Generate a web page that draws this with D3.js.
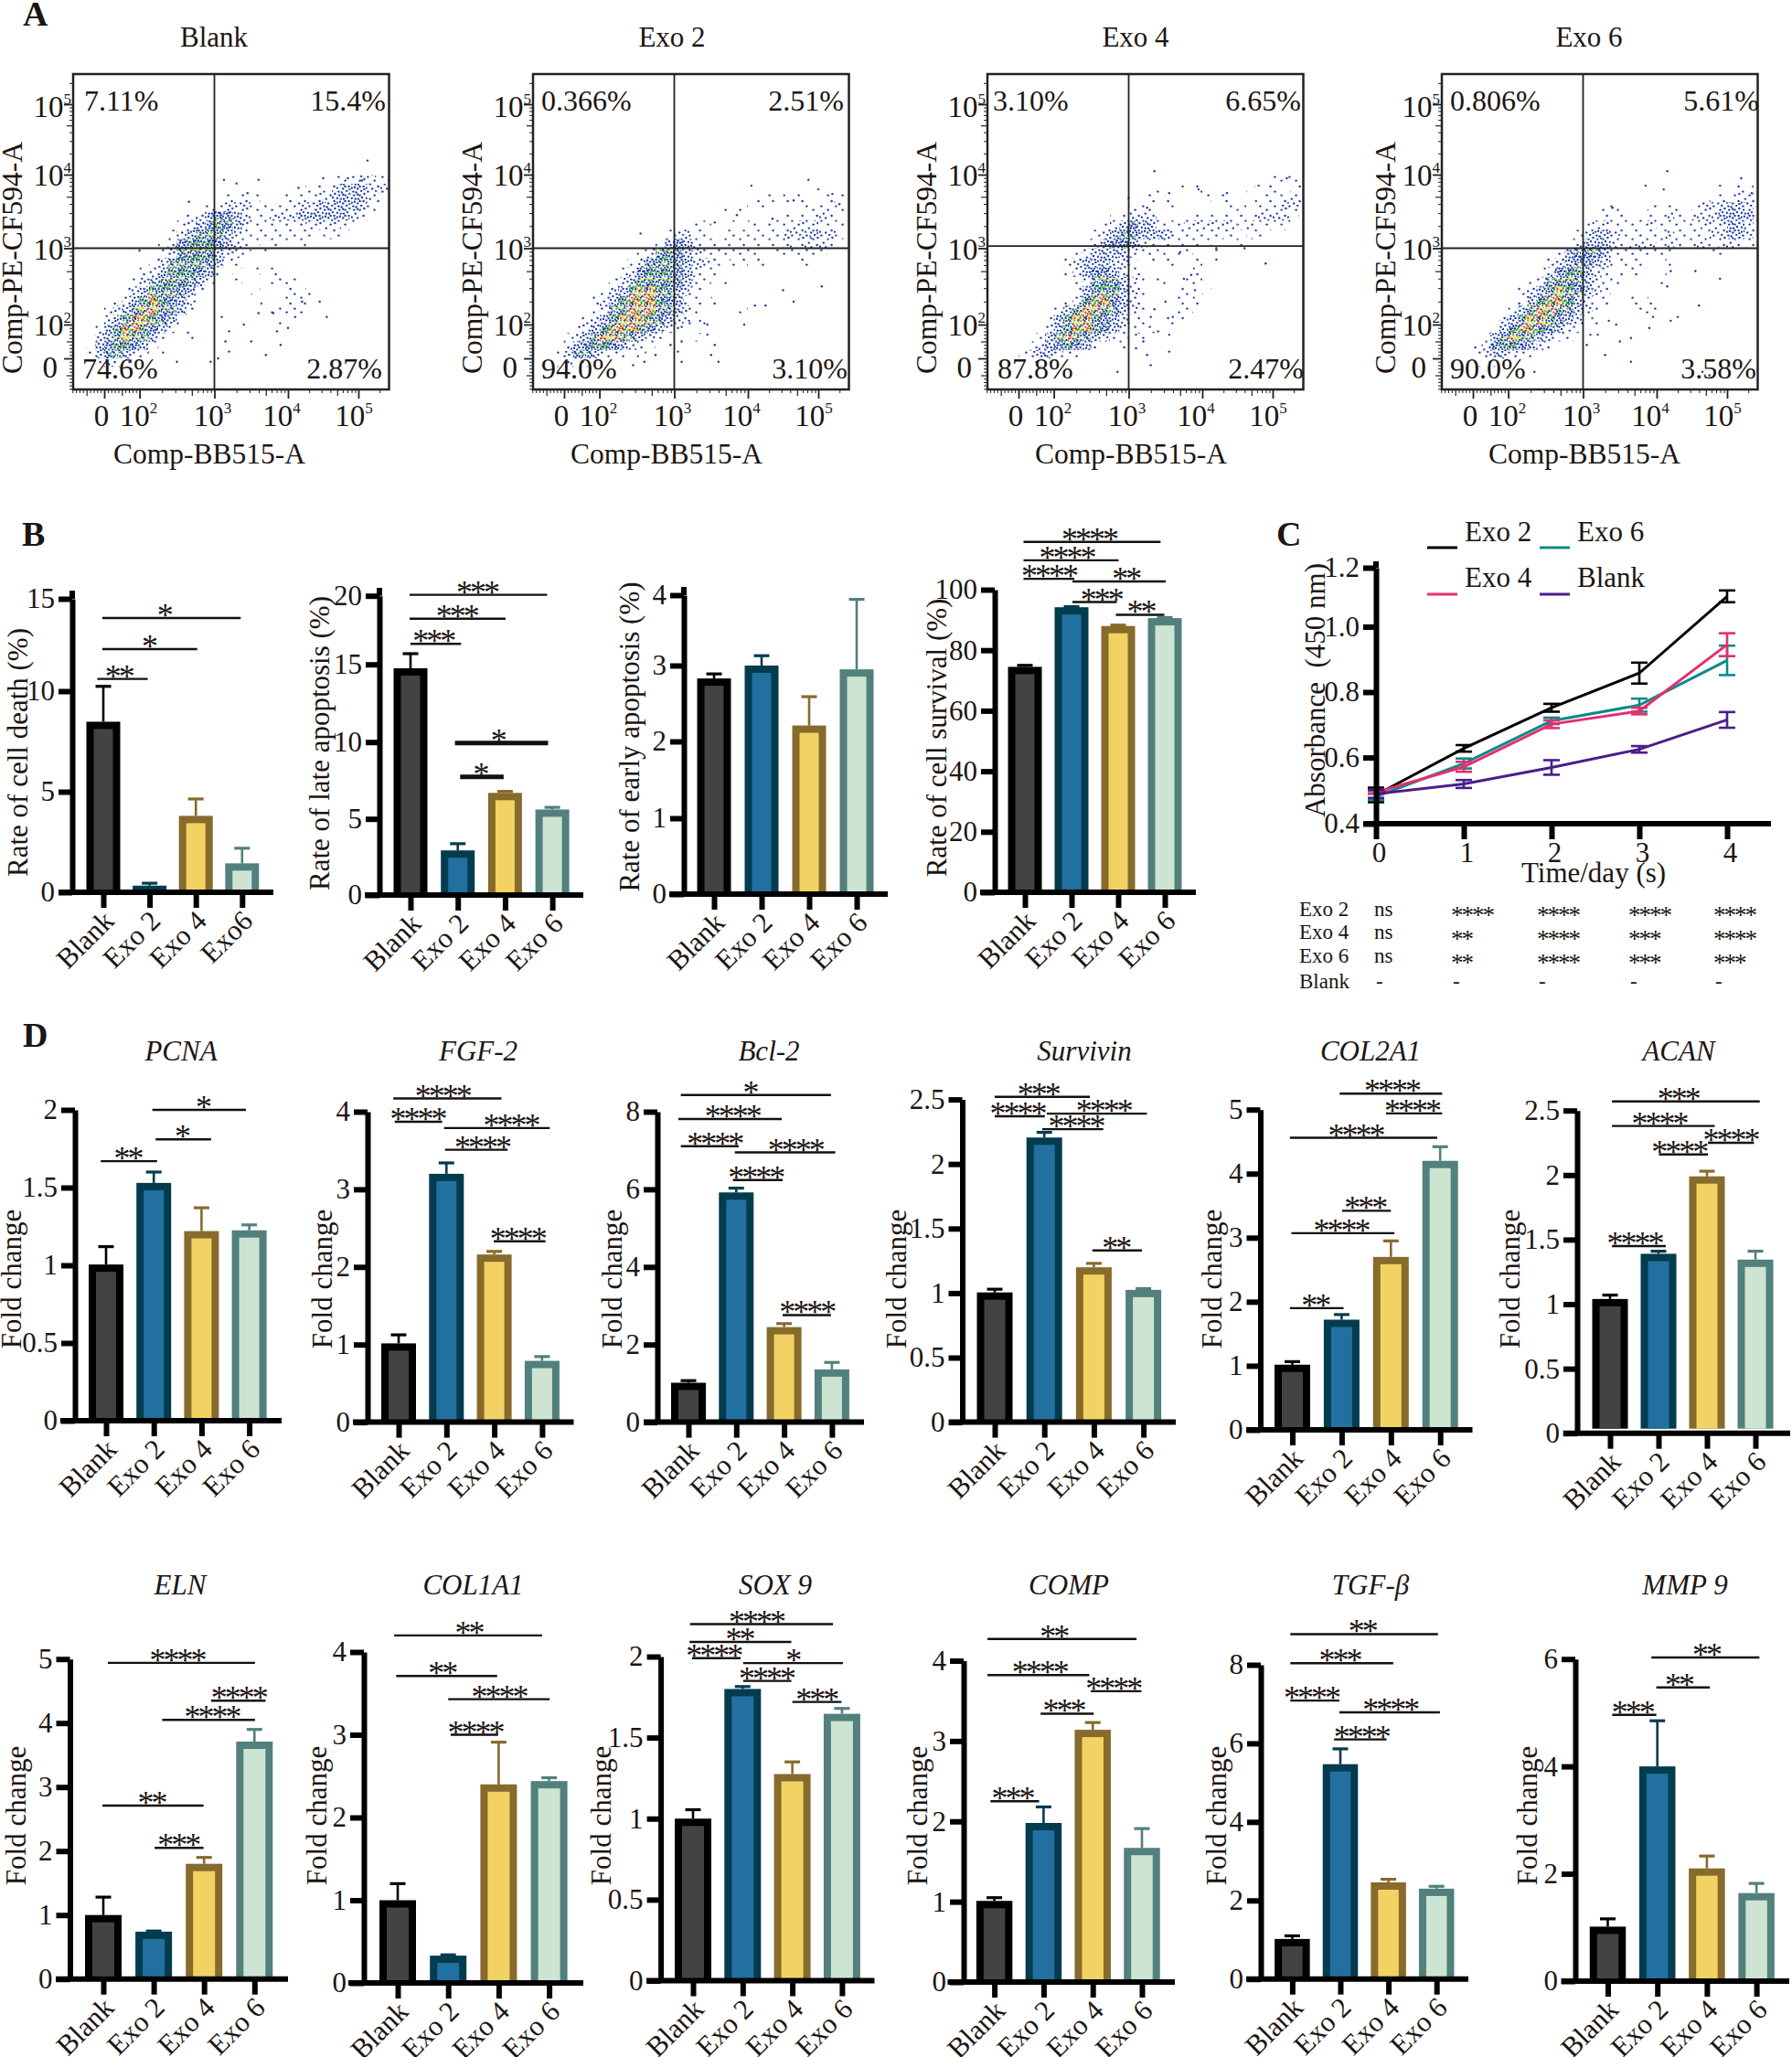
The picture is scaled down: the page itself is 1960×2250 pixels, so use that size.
<!DOCTYPE html>
<html><head><meta charset="utf-8">
<script src="https://cdn.jsdelivr.net/npm/d3@7"></script>
<style>html,body{margin:0;background:#fff}svg{display:block}text{font-family:"Liberation Serif",serif;fill:#1d1512}</style>
</head><body><svg id="fig" width="1960" height="2250"></svg>
<script>
// ---------- shared categories ----------
const cats=["Blank","Exo 2","Exo 4","Exo 6"];
const catsB1=["Blank","Exo 2","Exo 4","Exo6"];
const borderCols=["#000000","#033b4f","#876b2c","#52807d"];
const fillCols=["#434343","#22709f","#f3d264","#cde4d2"];

// ---------- panel A: density rows, top row is 3.875 decades, step 0.125; columns start at 1.25 decades ----------
const blankGrid=["0000000000000000000000000001112211","0000000000000000000000001112333222","0000000000000001111001111223333210","0000000000000112221111122333332100","0000000000012344321122233333321000","0000000000123454321111112222110000","0000000001235553211111111011000000","0000000012455543211011011000000000","0000000012455532210100000000000000","0000000124555431100000000000000000","0000001235554310101010000000000000","0000012355543100100011100000000000","0000123555431000001000101000000000","0001235654320000000101111000000000","0012356654310000000011110000000000","0023566543100000000001000000000000","0135665431010000000000000000000000","0235654310010000000000000000000000","1345543100000000000000000000000000","1344321010000000000000000000000000","0121100000000000000000000000000000"];
const exo2Grid=["0000000000000000000000000000000000","0000000000000000000000000000000000","0000000000000000000000011011101210","0000000000000000000101010000111110","0000000000000000000000000111112110","0000000000000000110010101112221110","0000000000000122110111111122232210","0000000000001343211111111121222100","0000000000124543211111100111111000","0000000001245543221011010000100000","0000000012455543211000000000000000","0000000123555543110100000000000000","0000001235665432100000000000000000","0000012356665431101000000000000000","0000012456665432100001000000000000","0000123566654321010000000000000000","0001235666543210000000000000000000","0012356654321000100000000000000000","0123455432110000000000000000000000","0124432110100000000000000000000000","0121100000000000000000000000000000"];
const exo4Grid=["0000000000000000000000000000001111","0000000000000000010101000001011011","0000000000000000101000101000111121","0000000000000011101000000110111221","0000000000001122210011111111222210","0000000000012343311122222212111100","0000000000123443332111111101100000","0000000001234432111111100110000000","0000000012333321110110010000000000","0000000123332210101001000000000000","0000000123443211000001000000000000","0000000012455321010011000000000000","0000000013555321000110100000000000","0000000125664321000101000000000000","0000001356654321000110000000000000","0000013566543211001100000000000000","0000023566543210100000000000000000","0000135654321101000000000000000000","0001234543100100000000000000000000","0012332110000000000000000000000000","0001110000000000000000000000000000"];
const exo6Grid=["0000000000000000000000000000000000","0000000000000000000000000000000110","0000000000000000000000000000111221","0000000000000000110001011012223321","0000000000000000111011121122233331","0000000000000012211112111112223321","0000000000000123321111121111223321","0000000000001233321222121122122111","0000000000013444311111110000110000","0000000000123443211110010000000000","0000000001245532101100010000000000","0000000012455432110000100000000000","0000000123565432100000000000000000","0000000135665321100101000000000000","0000001356654321000011000000000000","0000023566543211000000000000000000","0000135665432100000000000000000000","0001356543211000000000000000000000","0012455432100000000000000000000000","0012332110000000000000000000000000","0011100000000000000000000000000000"];
// isolated events, [BB515 decades, PE-CF594 decades]
const blankPts=[[5.13,4.2],[3.13,3.93],[3.6,3.93],[4.15,3.82],[2.66,3.63],[3.3,3.88],[3.45,3.75],[4.5,3.95],[4.85,3.95],[5.05,3.92],[2,2.97],[3.1,2.1],[3.2,1.9],[3.4,2.0],[3.5,1.75],[3.7,1.55],[3.9,1.7],[4,1.95],[3.2,1.6],[3.05,1.5],[2.5,1.45],[2.95,1.45],[3.15,1.75],[3.6,2.15],[3.8,2.15],[4.2,2.3],[4.55,2.1],[4.45,2.3],[4.1,2.1],[3.85,1.9]];
const exo2Pts=[[4.86,3.93],[4.05,3.85],[5.0,3.8],[4.65,3.65],[5.3,3.6],[3.85,3.45],[4.35,3.4],[3.55,3.35],[2.55,3.2],[3.2,2.05],[3.35,2.05],[3.45,2.0],[3.45,1.85],[3.55,1.7],[3.5,1.55],[3.6,1.45],[3.05,1.6],[3.1,1.45],[3.05,1.95],[3.1,1.75],[4.25,2.25],[3.95,2.0],[4.1,2.25],[4.5,2.45],[4.65,2.3],[5.05,2.5],[2.75,1.55],[2.6,1.45],[2.95,1.7],[2.45,1.4]];
const exo4Pts=[[3.35,4.05],[3.0,3.68],[3.25,3.55],[3.55,3.75],[3.95,3.8],[4.35,3.75],[4.8,3.85],[5.2,3.95],[3.75,2.6],[3.9,2.45],[3.5,2.3],[3.35,2.2],[3.6,2.1],[3.3,2.1],[3.4,1.9],[3.55,1.85],[3.1,1.85],[3.2,1.75],[3.1,1.65],[3.25,1.55],[3.55,1.6],[2.85,1.3],[3.3,1.4],[4.2,3.0],[4.6,3.0],[4.2,2.85],[3.7,2.95],[3.85,2.65],[4.9,2.8]];
const exo6Pts=[[4.15,4.05],[4.1,3.8],[3.85,3.85],[5.2,3.95],[5.35,3.75],[4.9,3.85],[3.4,3.55],[4.2,2.7],[4.55,2.7],[4.15,2.5],[4.6,2.25],[4.3,2.1],[4.2,2.05],[3.9,1.95],[3.95,2.1],[3.45,2.0],[3.35,2.05],[3.2,1.85],[3.5,1.75],[3.65,1.8],[3.3,1.55],[3.65,1.45],[4.65,1.3],[4.75,1.25],[2.35,1.3],[3.1,1.85],[3.05,1.7],[4.9,2.6]];
const quadBlank=["7.11%","15.4%","74.6%","2.87%"];
const quadExo2=["0.366%","2.51%","94.0%","3.10%"];
const quadExo4=["3.10%","6.65%","87.8%","2.47%"];
const quadExo6=["0.806%","5.61%","90.0%","3.58%"];

// ---------- panel B ----------
const deathVals=[8.48,0.33,3.8,1.44], deathTops=[10.26,0.45,4.64,2.19];
const lateVals=[14.75,2.93,6.69,5.61], lateTops=[15.78,3.37,6.79,5.75];
const earlyVals=[2.83,3.0,2.21,2.95], earlyTops=[2.89,3.14,2.59,3.94];
const survVals=[74.5,94.2,88,90.6], survTops=[75,94.4,88.3,90.8];
// brackets: [from group, to group, height in axis units, stars, star position in groups]
const deathSig=[[-0.13,0.96,10.66,"**",0.35],[-0.02,2.03,12.28,"*",1.0],[-0.02,2.97,13.96,"*",1.33]];
const lateSig=[[0,1.07,16.5,"***",0.5],[-0.02,2.01,18.33,"***",0.99],[-0.02,2.89,20.07,"***",1.42],[0.94,2.91,9.94,"*",1.86],[1.05,1.97,7.73,"*",1.49]];
const survSig=[[-0.03,2.91,115.8,"****",1.39],[-0.03,2.01,109.7,"****",0.91],[-0.03,1.06,103.6,"****",0.53],[1.02,3.02,102.7,"**",2.18],[1.02,1.97,95.9,"***",1.65],[1.95,2.99,91.7,"**",2.5]];

// ---------- panel C ----------
const days=[0,1,2,3,4];
const exo2Abs=[0.487,0.628,0.752,0.858,1.103], exo2Err=[0.022,0.01,0.012,0.032,0.02];
const exo4Abs=[0.495,0.572,0.702,0.742,0.945], exo4Err=[0.005,0.015,0.012,0.01,0.035];
const exo6Abs=[0.482,0.582,0.712,0.76,0.897], exo6Err=[0.01,0.015,0.01,0.02,0.045];
const blankAbs=[0.49,0.52,0.57,0.625,0.715], blankErr=[0.012,0.012,0.022,0.01,0.024];
const lineCols=["#000000","#e62e6f","#0e8a87","#4a1d8c"];
const sigRowNames=["Exo 2","Exo 4","Exo 6","Blank"];
const sigRows=[["ns","****","****","****","****"],["ns","**","****","***","****"],["ns","**","****","***","***"],["-","-","-","-","-"]];

// ---------- panel D ----------
const pcnaVals=[1.005,1.53,1.22,1.225], pcnaTops=[1.12,1.6,1.37,1.26];
const pcnaSig=[[-0.11,1.07,1.67,"**",0.47],[1.04,2.2,1.81,"*",1.6],[0.97,2.93,2.0,"*",2.04]];
const fgfVals=[1.015,3.2,2.16,0.79], fgfTops=[1.125,3.34,2.2,0.845];
const fgfSig=[[-0.11,2.15,4.17,"****",0.93],[-0.08,0.91,3.87,"****",0.41],[0.95,3.16,3.79,"****",2.36],[0.97,2.28,3.51,"****",1.76],[1.99,3.07,2.33,"****",2.5]];
const bclVals=[1.015,5.92,2.45,1.36], bclTops=[1.07,6.03,2.54,1.54];
const bclSig=[[-0.16,2.98,8.43,"*",1.3],[-0.21,1.95,7.81,"****",0.93],[-0.16,1.05,7.11,"****",0.56],[0.97,3.07,6.95,"****",2.25],[0.93,1.97,6.24,"****",1.42],[1.97,2.98,2.76,"****",2.49]];
const survivinVals=[1.005,2.205,1.2,1.025], survivinTops=[1.03,2.245,1.23,1.035];
const survivinSig=[[0,1.92,2.52,"***",0.89],[0,1.01,2.37,"****",0.47],[1.05,3.07,2.39,"****",2.21],[0.96,2.19,2.27,"****",1.65],[1.97,2.97,1.33,"**",2.46]];
const col2Vals=[1.017,1.72,2.7,4.2], col2Tops=[1.065,1.8,2.95,4.42];
const col2Sig=[[0.96,3.04,5.25,"****",2.03],[1.9,3.04,4.94,"****",2.44],[-0.05,2.94,4.56,"****",1.3],[1.01,2.0,3.42,"***",1.49],[-0.02,2.07,3.07,"****",1.0],[-0.05,1.04,1.9,"**",0.48]];
const acanVals=[1.04,1.39,1.99,1.345], acanTops=[1.07,1.41,2.03,1.41];
const acanSig=[[0.04,3.09,2.57,"***",1.42],[0.04,2.16,2.38,"****",1.03],[2.02,2.97,2.25,"****",2.5],[1.01,2.02,2.16,"****",1.44],[0.04,1.15,1.45,"****",0.52]];
const elnVals=[1.0,0.74,1.8,3.71], elnTops=[1.28,0.75,1.9,3.9];
const elnSig=[[0.09,3.01,4.94,"****",1.48],[2.14,3.22,4.35,"****",2.7],[1.17,3.01,4.05,"****",2.17],[-0.02,1.99,2.71,"**",0.97],[1.02,1.99,2.05,"***",1.5]];
const col1Vals=[1.0,0.33,2.4,2.44], col1Tops=[1.2,0.34,2.91,2.48];
const col1Sig=[[-0.07,2.86,4.2,"**",1.42],[-0.03,1.97,3.71,"**",0.89],[1,3.01,3.43,"****",2.02],[1.05,1.99,3.0,"****",1.55]];
const soxVals=[1.0,1.8,1.275,1.647], soxTops=[1.055,1.815,1.35,1.68];
const soxSig=[[-0.06,2.82,2.2,"****",1.29],[-0.07,1.98,2.09,"**",0.95],[-0.02,0.96,1.99,"****",0.43],[1.01,3.02,1.96,"*",2.02],[1.01,1.98,1.85,"****",1.49],[2,2.99,1.72,"***",2.5]];
const compVals=[1.01,1.98,3.14,1.67], compTops=[1.05,2.18,3.23,1.91];
const compSig=[[-0.14,2.89,4.27,"**",1.22],[-0.14,1.93,3.82,"****",0.93],[1.96,2.99,3.62,"****",2.43],[0.94,2.02,3.34,"***",1.42],[-0.08,0.91,2.25,"***",0.38]];
const tgfVals=[1.02,5.47,2.46,2.3], tgfTops=[1.1,5.86,2.54,2.36];
const tgfSig=[[-0.04,3.03,8.78,"**",1.47],[-0.04,2.1,8.04,"***",1.0],[-0.04,0.98,7.09,"****",0.41],[0.98,3.07,6.79,"****",2.05],[0.87,1.96,6.1,"****",1.45]];
const mmpVals=[1.015,4.0,2.1,1.64], mmpTops=[1.16,4.85,2.33,1.82];
const mmpSig=[[0.88,3.06,6.03,"**",2],[0.98,2.06,5.47,"**",1.45],[0.09,0.98,4.96,"***",0.51]];

const svg=d3.select("#fig");
const FS=31;
function txt(g,s,x,y,o={}){
  const t=g.append("text").attr("x",0).attr("y",0).text(s)
    .attr("font-size",o.size||FS).attr("text-anchor",o.anchor||"middle")
    .attr("transform",`translate(${x},${y})`+(o.rot?` rotate(${o.rot})`:""));
  if(o.italic)t.attr("font-style","italic");
  if(o.bold)t.attr("font-weight","bold");
  if(o.ls)t.attr("letter-spacing",o.ls);
  return t;
}

// ---------- stipple textures for the density cells ----------
const tile=[[3,2],[12,7],[17,15],[6,12],[1,17],[14,1],[9,18],[18,5],[4,7],[10,12],[15,10],[7,3],[1,11],[12,15],[18,19],[5,16],[9,6],[16,2],[2,14],[14,18],[7,9],[11,3],[19,11],[3,19],[13,11],[6,1],[0,6],[16,7],[9,15],[5,10],[17,13],[11,9],[1,3],[8,13],[13,5],[4,14],[15,17],[10,0]];
const levelCounts=[0,3,8,17,28,36,38];
const BLUE="#16389e",GREEN="#4fb544",YEL="#e9d92c",RED="#e8351f";
function dotColor(level,i){
  if(level<=3) return BLUE;
  if(level===4) return i%7===0?GREEN:BLUE;
  if(level===5) return i%3===0?GREEN:(i%8===1?YEL:BLUE);
  return i%4===0?RED:(i%4===1?YEL:(i%4===2?GREEN:BLUE));
}
const defs=svg.append("defs");
levelCounts.forEach((n,lv)=>{
  if(!lv)return;
  const p=defs.append("pattern").attr("id","st"+lv).attr("patternUnits","userSpaceOnUse").attr("width",20).attr("height",20).attr("patternTransform","scale(0.8)");
  tile.slice(0,n).forEach((d,i)=>p.append("circle").attr("cx",d[0]).attr("cy",d[1]).attr("r",1.5).attr("fill",dotColor(lv,i)));
});

// ---------- flow panels ----------
let clipNo=0;
function flowPanel(o){
  const g=svg.append("g");
  const x0=o.x0,w=345.5,top=81,bot=426;
  const xs=d3.scaleLinear().domain([1.5,2,3,4,5]).range([34,72.6,154.5,235,312].map(d=>d+x0));
  const ys=d3.scaleLinear().domain([1.5,2,3,4,5]).range([392,355,271.5,191,114]);
  const step=0.125;
  const clipId="box"+(clipNo++);
  defs.append("clipPath").attr("id",clipId).append("rect").attr("x",x0).attr("y",top).attr("width",w).attr("height",bot-top);
  const plot=g.append("g").attr("clip-path",`url(#${clipId})`);
  o.grid.forEach((row,r)=>{
    const yu=3.875-r*step;
    row.split("").forEach((c,k)=>{
      if(c==="0")return;
      const xu=1.25+k*step;
      plot.append("rect").attr("x",xs(xu)).attr("y",ys(yu+step)).attr("width",xs(xu+step)-xs(xu)).attr("height",ys(yu)-ys(yu+step))
       .attr("fill",`url(#st${c})`);
    });
  });
  plot.selectAll("circle.pt").data(o.pts).join("circle").attr("cx",d=>xs(d[0])).attr("cy",d=>ys(d[1])).attr("r",1.2).attr("fill",BLUE);
  g.append("rect").attr("x",x0).attr("y",top).attr("width",w).attr("height",bot-top).attr("fill","none").attr("stroke","#222").attr("stroke-width",2.5);
  g.append("line").attr("x1",xs(o.gate[0])).attr("x2",xs(o.gate[0])).attr("y1",top).attr("y2",bot).attr("stroke","#222").attr("stroke-width",1.8);
  g.append("line").attr("y1",ys(o.gate[1])).attr("y2",ys(o.gate[1])).attr("x1",x0).attr("x2",x0+w).attr("stroke","#222").attr("stroke-width",1.8);
  // biexponential tick tiers
  const major=[1.5,2,3,4,5], mid=[], minor=[];
  [2,3,4,5].forEach(d=>{for(let k=2;k<=9;k++){const u=d+Math.log10(k); if(u<5.42)(k===5?mid:minor).push(u);}});
  for(let v=-90;v<=90;v+=10){ if(v!==0) (Math.abs(v)===50?mid:minor).push(1.5+0.5*v/100); }
  [[major,10,1.8],[mid,7,1.2],[minor,4,1]].forEach(([vals,len,sw])=>{
    const ax=g.append("g").attr("transform",`translate(0,${bot})`).call(d3.axisBottom(xs).tickValues(vals).tickSize(len).tickFormat(""));
    const ay=g.append("g").attr("transform",`translate(${x0},0)`).call(d3.axisLeft(ys).tickValues(vals).tickSize(len).tickFormat(""));
    [ax,ay].forEach(a=>{a.select(".domain").remove();a.selectAll("line").attr("stroke","#222").attr("stroke-width",sw);});
  });
  const pow=(px,py,e,anchor)=>{
    const t=txt(g,"10",px,py,{anchor,size:33});
    t.append("tspan").text(e).attr("font-size",17).attr("dy",-14);
    return t;
  };
  [2,3,4,5].forEach((d,i)=>{
    pow(xs(d)-[1,2,7,5][i],466,d,"middle");
    pow(x0-2,ys(d)+[12,12.5,12,14][i],d,"end");
  });
  txt(g,"0",xs(1.5)-3,466,{size:33});
  txt(g,"0",x0-17,413,{anchor:"end",size:33});
  txt(g,o.title,o.titleX,51);
  txt(g,"Comp-BB515-A",o.xlabX,507,{size:31.5});
  txt(g,"Comp-PE-CF594-A",o.ylabX,282,{rot:-90,size:31.5});
  txt(g,o.quad[0],o.q[0],121,{anchor:"start",size:32});
  txt(g,o.quad[1],o.q[1],121,{anchor:"end",size:32});
  txt(g,o.quad[2],o.q[2],414,{anchor:"start",size:32});
  txt(g,o.quad[3],o.q[3],414,{anchor:"end",size:32});
}
flowPanel({x0:80,grid:blankGrid,pts:blankPts,gate:[3,3],title:"Blank",titleX:234,xlabX:229,ylabX:24,quad:quadBlank,q:[92,422,90,418]});
flowPanel({x0:583,grid:exo2Grid,pts:exo2Pts,gate:[3,3],title:"Exo 2",titleX:735,xlabX:729,ylabX:527,quad:quadExo2,q:[592,923,592,927]});
flowPanel({x0:1080,grid:exo4Grid,pts:exo4Pts,gate:[3,3.03],title:"Exo 4",titleX:1242,xlabX:1237,ylabX:1024,quad:quadExo4,q:[1086,1423,1091,1426]});
flowPanel({x0:1577,grid:exo6Grid,pts:exo6Pts,gate:[3,3],title:"Exo 6",titleX:1738,xlabX:1733,ylabX:1526,quad:quadExo6,q:[1586,1924,1586,1921]});

// ---------- bar panels ----------
function barPanel(o){
  const g=svg.append("g");
  const y=d3.scaleLinear().domain(o.ticks).range(o.tickPx||o.ticks.map(t=>o.base+(o.top-o.base)*t/o.ticks[o.ticks.length-1]));
  const x=d3.scaleLinear().domain([0,3]).range([o.c0,o.c0+3*o.step]);
  const bw=o.w||38,sw=8,yFoot=o.base-(o.gap||0);
  const labels=o.cats||cats;
  // error bars
  labels.forEach((c,i)=>{
    const cx=x(i);
    g.append("line").attr("x1",cx).attr("x2",cx).attr("y1",y(o.vals[i])).attr("y2",y(o.tops[i])).attr("stroke",borderCols[i]).attr("stroke-width",2.6);
    g.append("line").attr("x1",cx-8.5).attr("x2",cx+8.5).attr("y1",y(o.tops[i])).attr("y2",y(o.tops[i])).attr("stroke",borderCols[i]).attr("stroke-width",3.2);
  });
  // bars: dark frame, then the lighter core
  g.selectAll("rect.frame").data(o.vals).join("rect").attr("class","frame")
   .attr("x",(d,i)=>x(i)-bw/2).attr("width",bw)
   .attr("y",d=>y(d)).attr("height",d=>yFoot-y(d)).attr("fill",(d,i)=>borderCols[i]);
  g.selectAll("rect.core").data(o.vals).join("rect").attr("class","core")
   .attr("x",(d,i)=>x(i)-bw/2+sw).attr("width",bw-2*sw)
   .attr("y",d=>y(d)+sw).attr("height",d=>Math.max(0,yFoot-y(d)-sw)).attr("fill",(d,i)=>fillCols[i]);
  // y axis
  const ya=g.append("g").attr("transform",`translate(${o.ax},0)`)
    .call(d3.axisLeft(y).tickValues(o.ticks).tickSizeInner(15).tickSizeOuter(0).tickPadding(4).tickFormat(d=>String(d)));
  ya.select(".domain").attr("stroke","#000").attr("stroke-width",6);
  ya.selectAll("line").attr("stroke","#000").attr("stroke-width",6);
  ya.selectAll("text").attr("font-size",FS).attr("font-family","Liberation Serif").attr("fill","#1d1512").attr("dy","0.32em");
  if(o.axisTop) g.append("line").attr("x1",o.ax).attr("x2",o.ax).attr("y1",y(o.ticks[o.ticks.length-1])).attr("y2",o.axisTop).attr("stroke","#000").attr("stroke-width",6);
  // x axis
  const xa=g.append("g").attr("transform",`translate(0,${o.base})`)
    .call(d3.axisBottom(x).tickValues([0,1,2,3]).tickSize(17).tickFormat(i=>labels[i]));
  xa.select(".domain").remove();
  xa.selectAll("line").attr("stroke","#000").attr("stroke-width",6);
  xa.selectAll("text").attr("font-size",FS).attr("font-family","Liberation Serif").attr("fill","#1d1512")
    .attr("text-anchor","end").attr("dy",0).attr("y",0)
    .attr("transform",`translate(13,33) rotate(-45)`);
  g.append("line").attr("x1",o.xStart).attr("x2",o.xEnd).attr("y1",o.base).attr("y2",o.base).attr("stroke","#000").attr("stroke-width",6);
  // significance brackets
  (o.sig||[]).forEach((s,i)=>{
    g.append("line").attr("x1",x(s[0])).attr("x2",x(s[1])).attr("y1",y(s[2])).attr("y2",y(s[2])).attr("stroke","#111").attr("stroke-width",(o.thick||[]).includes(i)?5:2.4);
    txt(g,s[3],x(s[4])-1,y(s[2])+9,{size:36,ls:-3});
  });
  if(o.title) txt(g,o.title,o.titleX,o.titleY,{italic:true});
  txt(g,o.ylabel||"Fold change",o.ylabX,o.ylabY,{rot:-90});
}

barPanel({vals:deathVals,tops:deathTops,sig:deathSig,cats:catsB1,ax:79,base:976,tickPx:[976,866,756,655],axisTop:646,ticks:[0,5,10,15],c0:113,step:50.6,w:37,xStart:64,xEnd:299,ylabel:"Rate of cell death (%)",ylabX:30,ylabY:823});
barPanel({vals:lateVals,tops:lateTops,sig:lateSig,thick:[3,4],ax:415,base:979,tickPx:[979,895.7,811.7,726.7,651.7],axisTop:643,ticks:[0,5,10,15,20],c0:449,step:51.7,w:37,xStart:399,xEnd:638,ylabel:"Rate of late apoptosis (%)",ylabX:360,ylabY:813});
barPanel({vals:earlyVals,tops:earlyTops,ax:748,base:978,tickPx:[978,895,811,728,651],axisTop:642,ticks:[0,1,2,3,4],c0:781,step:52,w:37,xStart:732,xEnd:971,ylabel:"Rate of early apoptosis (%)",ylabX:699,ylabY:806});
barPanel({vals:survVals,tops:survTops,sig:survSig,ax:1088,base:976,top:645,ticks:[0,20,40,60,80,100],c0:1121,step:51,w:37,xStart:1072,xEnd:1308,ylabel:"Rate of cell survival (%)",ylabX:1035,ylabY:807});

const r1=1160,r2=1744,yc1=1399,yc2=1986;
barPanel({vals:pcnaVals,tops:pcnaTops,sig:pcnaSig,title:"PCNA",titleX:198,titleY:r1,ax:82,base:1554,top:1214,ticks:[0,0.5,1,1.5,2],c0:116,step:52.2,xStart:66,xEnd:308,ylabX:22.5,ylabY:yc1});
barPanel({vals:fgfVals,tops:fgfTops,sig:fgfSig,title:"FGF-2",titleX:523,titleY:r1,ax:402,base:1555.6,top:1216,ticks:[0,1,2,3,4],c0:436,step:52.3,xStart:386,xEnd:627.5,ylabX:363,ylabY:yc1});
barPanel({vals:bclVals,tops:bclTops,sig:bclSig,title:"Bcl-2",titleX:841,titleY:r1,ax:719,base:1555.6,top:1216,ticks:[0,2,4,6,8],c0:753,step:52.3,xStart:704,xEnd:945,ylabX:680,ylabY:yc1});
barPanel({vals:survivinVals,tops:survivinTops,sig:survivinSig,title:"Survivin",titleX:1186,titleY:r1,ax:1052.5,base:1555.6,top:1202.6,ticks:[0,0.5,1,1.5,2,2.5],c0:1088,step:54.2,w:39,xStart:1038,xEnd:1286,ylabX:991,ylabY:yc1});
barPanel({vals:col2Vals,tops:col2Tops,sig:col2Sig,title:"COL2A1",titleX:1499,titleY:r1,ax:1378.5,base:1564,top:1213.7,ticks:[0,1,2,3,4,5],c0:1413.5,step:53.9,w:39,xStart:1363,xEnd:1610.5,ylabX:1336,ylabY:yc1});
barPanel({vals:acanVals,tops:acanTops,sig:acanSig,gap:5,title:"ACAN",titleX:1836,titleY:r1,ax:1725,base:1567.7,top:1214.7,ticks:[0,0.5,1,1.5,2,2.5],c0:1761,step:53,w:39,xStart:1709.7,xEnd:1958,ylabX:1662,ylabY:yc1});

barPanel({vals:elnVals,tops:elnTops,sig:elnSig,title:"ELN",titleX:197,titleY:r2,ax:76.5,base:2164.7,top:1814.7,ticks:[0,1,2,3,4,5],c0:113,step:55.1,w:40,xStart:61,xEnd:315,ylabX:27.5,ylabY:yc2});
barPanel({vals:col1Vals,tops:col1Tops,sig:col1Sig,title:"COL1A1",titleX:517.5,titleY:r2,ax:398,base:2169,top:1807,ticks:[0,1,2,3,4],c0:435,step:55.2,w:40,xStart:381,xEnd:638,ylabX:357,ylabY:yc2});
barPanel({vals:soxVals,tops:soxTops,sig:soxSig,title:"SOX 9",titleX:848,titleY:r2,ax:722.6,base:2166.5,top:1812,ticks:[0,0.5,1,1.5,2],c0:758,step:54.3,w:40,xStart:707,xEnd:956.5,ylabX:667.5,ylabY:yc2});
barPanel({vals:compVals,tops:compTops,sig:compSig,title:"COMP",titleX:1169,titleY:r2,ax:1054,base:2168,top:1816.5,ticks:[0,1,2,3,4],c0:1087.6,step:53.8,w:39.5,xStart:1036.5,xEnd:1285,ylabX:1014,ylabY:yc2});
barPanel({vals:tgfVals,tops:tgfTops,sig:tgfSig,title:"TGF-β",titleX:1499,titleY:r2,ax:1379,base:2164.7,top:1821,ticks:[0,2,4,6,8],c0:1413.4,step:52.6,w:38.5,xStart:1363,xEnd:1606,ylabX:1341,ylabY:yc2});
barPanel({vals:mmpVals,tops:mmpTops,sig:mmpSig,title:"MMP 9",titleX:1843,titleY:r2,ax:1723,base:2167,top:1814.7,ticks:[0,2,4,6],c0:1758.5,step:54.2,w:39.5,xStart:1707.5,xEnd:1957,ylabX:1680.7,ylabY:yc2});

// ---------- panel C ----------
(function(){
  const g=svg.append("g");
  const yTicks=[0.4,0.6,0.8,1,1.2];
  const y=d3.scaleLinear().domain(yTicks).range([901,828.6,757,685.5,621]);
  const x=d3.scaleLinear().domain([0,4]).range([1505,1889]);
  const lineGen=d3.line().x((d,i)=>x(i)).y(d=>y(d));
  const series=[[exo2Abs,exo2Err,lineCols[0]],[exo6Abs,exo6Err,lineCols[2]],[exo4Abs,exo4Err,lineCols[1]],[blankAbs,blankErr,lineCols[3]]];
  series.forEach(([v,e,c])=>{
    g.append("path").attr("d",lineGen(v)).attr("fill","none").attr("stroke",c).attr("stroke-width",3);
    v.forEach((m,i)=>{
      const cx=x(i);
      g.append("line").attr("x1",cx).attr("x2",cx).attr("y1",y(m-e[i])).attr("y2",y(m+e[i])).attr("stroke",c).attr("stroke-width",2.6);
      [m-e[i],m+e[i]].forEach(t=>g.append("line").attr("x1",cx-9).attr("x2",cx+9).attr("y1",y(t)).attr("y2",y(t)).attr("stroke",c).attr("stroke-width",2.6));
    });
  });
  const ya=g.append("g").attr("transform","translate(1505,0)").call(d3.axisLeft(y).tickValues(yTicks).tickSizeInner(14).tickSizeOuter(0).tickPadding(4).tickFormat(d3.format(".1f")));
  ya.select(".domain").attr("stroke","#000").attr("stroke-width",6);
  ya.selectAll("line").attr("stroke","#000").attr("stroke-width",6);
  ya.selectAll("text").attr("font-size",FS).attr("font-family","Liberation Serif").attr("fill","#1d1512").attr("dy","0.32em");
  g.append("line").attr("x1",1505).attr("x2",1505).attr("y1",621).attr("y2",614).attr("stroke","#000").attr("stroke-width",6);
  const xa=g.append("g").attr("transform","translate(0,901)").call(d3.axisBottom(x).tickValues(days).tickSize(17).tickPadding(3).tickFormat(d3.format("d")));
  xa.select(".domain").remove();
  xa.selectAll("line").attr("stroke","#000").attr("stroke-width",6);
  xa.selectAll("text").attr("font-size",FS).attr("font-family","Liberation Serif").attr("fill","#1d1512").attr("dy",0).attr("y",42).attr("x",3);
  g.append("line").attr("x1",1491.5).attr("x2",1937).attr("y1",901).attr("y2",901).attr("stroke","#000").attr("stroke-width",6);
  txt(g,"Time/day (s)",1743,965);
  g.append("text").attr("style","white-space:pre").text("Absorbance  (450 nm)").attr("font-size",FS).attr("text-anchor","middle").attr("transform","translate(1449,755) rotate(-90)");
  // legend
  const leg=[["Exo 2",lineCols[0],1561,599,592],["Exo 6",lineCols[2],1684,599,592],["Exo 4",lineCols[1],1561,650,642],["Blank",lineCols[3],1684,650,642]];
  leg.forEach(([n,c,lx,ly,by])=>{
    g.append("line").attr("x1",lx).attr("x2",lx+33).attr("y1",ly).attr("y2",ly).attr("stroke",c).attr("stroke-width",3);
    txt(g,n,lx+41,by,{anchor:"start"});
  });
  // table under the plot
  const nameBase=[1002,1026.5,1053,1081], starBase=[1010,1036,1062,1081], colX=[1503,1587,1681,1781,1874];
  sigRowNames.forEach((n,r)=>{
    txt(g,n,1421,nameBase[r],{anchor:"start",size:23});
    sigRows[r].forEach((s,c)=>{
      const isNs=s==="ns", isDash=s==="-";
      txt(g,s,colX[c]+(isDash?2:0),(isNs||isDash)?nameBase[r]:starBase[r],(isNs||isDash)?{anchor:"start",size:23}:{anchor:"start",size:27,ls:-2});
    });
  });
})();

// ---------- panel letters ----------
[["A",25,28],["B",24,597],["C",1396,597],["D",25,1145]].forEach(([s,x,y])=>txt(svg,s,x,y,{anchor:"start",size:38,bold:true}));
</script></body></html>
